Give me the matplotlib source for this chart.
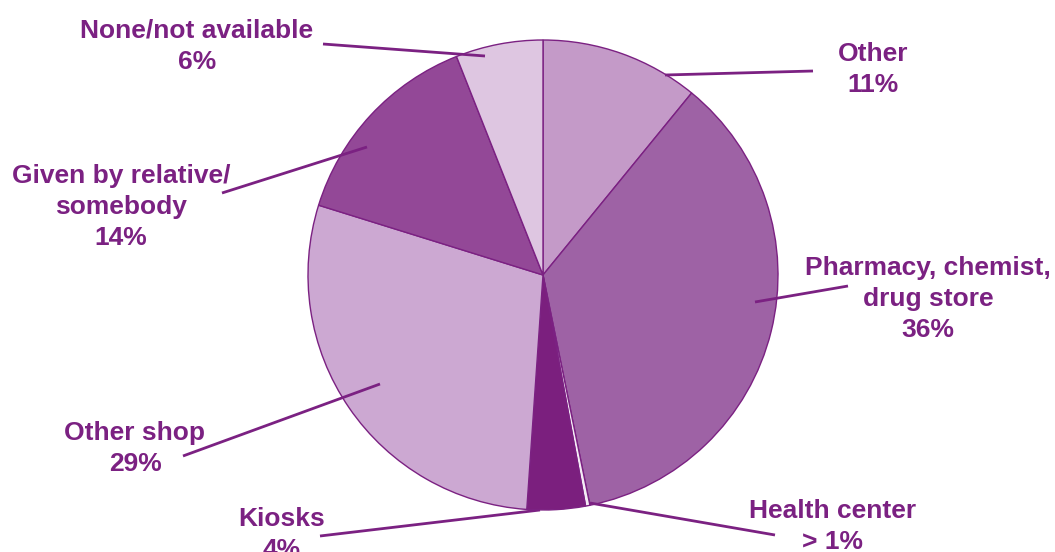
import matplotlib
matplotlib.use("Agg")
import matplotlib.pyplot as plt

#%% Data
labels = ["Other\n11%", "Pharmacy, chemist,\ndrug store\n36%", "Health center\n> 1%",
          "Kiosks\n4%", "Other shop\n29%", "Given by relative/\nsomebody\n14%",
          "None/not available\n6%"]
values = [10.9, 35.9, 0.3, 4.0, 28.7, 14.2, 6.0]
colors = ['#C49AC8', '#9E62A5', '#F4ECF5', '#7B1F7E', '#CCA8D2', '#934897', '#DEC6E1']

# label centre (x, top y) and leader line (text end, slice end), in image pixels
label_pos = [(873, 42), (928, 256), (833, 499), (282, 507), (135, 421), (121, 164), (197, 19)]
leaders = [((813, 71), (665, 75)), ((848, 286), (755, 302)), ((775, 535), (590, 503)),
           ((320, 536), (540, 510)), ((183, 456), (380, 384)), ((222, 193), (367, 147)),
           ((323, 44), (485, 56))]

purple = '#7B2182'
W, H = 1055, 552

fig = plt.figure(figsize=(W / 100, H / 100), dpi=100)
ax = fig.add_axes([0, 0, 1, 1])

# y axis runs downward, so startangle=-90 is the top and counterclock draws clockwise on screen
wedges, _ = ax.pie(values, colors=colors, startangle=-90, counterclock=True,
                   center=(543, 275), radius=235, frame=True,
                   wedgeprops=dict(edgecolor=purple, linewidth=1))
ax.set_xlim(0, W)
ax.set_ylim(H, 0)
ax.set_aspect('equal')
ax.axis('off')

for (x, y), lab in zip(label_pos, labels):
    ax.text(x, y, lab, ha='center', va='top', color=purple, fontsize=19,
            fontweight='bold', family='Liberation Sans', linespacing=1.36)

for (p0, p1) in leaders:
    ax.plot([p0[0], p1[0]], [p0[1], p1[1]], color=purple, lw=2, solid_capstyle='butt')

fig.savefig('out.png', dpi=100)
